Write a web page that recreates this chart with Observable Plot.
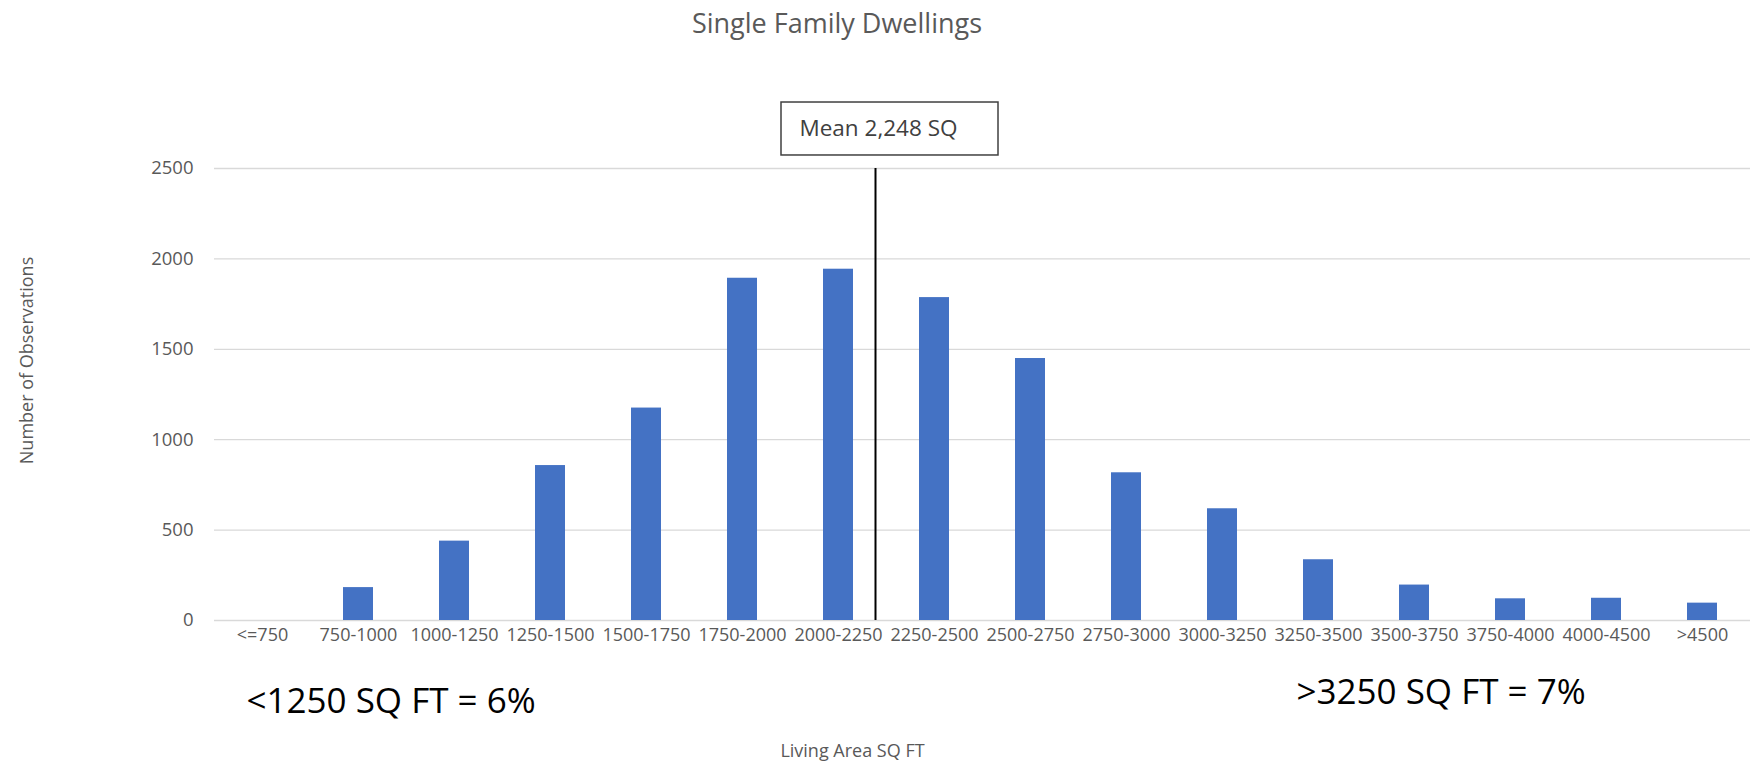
<!DOCTYPE html>
<html><head><meta charset="utf-8">
<script src="https://cdn.jsdelivr.net/npm/d3@7"></script>
<script src="https://cdn.jsdelivr.net/npm/@observablehq/plot@0.6"></script>
<style>
html,body{margin:0;padding:0;background:#fff;overflow:hidden;}
#title{position:relative;height:50px;font-family:"Open Sans";}
#title span{position:absolute;left:837px;top:9px;transform:translateX(-50%);font-size:27px;color:#595959;white-space:nowrap;line-height:27px;}
</style></head><body>
<div id="title"><span>Single Family Dwellings</span></div>
<div id="chart"></div>
<script>
const categories = ["<=750","750-1000","1000-1250","1250-1500","1500-1750","1750-2000","2000-2250","2250-2500","2500-2750","2750-3000","3000-3250","3250-3500","3500-3750","3750-4000","4000-4500",">4500"];
const counts = [0,182,439,857,1175,1893,1943,1786,1449,817,618,336,196,120,123,96];
const yTicks = [0,500,1000,1500,2000,2500];
const meanValue = 2248;
const meanLabel = "Mean 2,248 SQ";
const meanCategory = "2000-2250";
const annotationLeft = "<1250 SQ FT = 6%";
const annotationLeftCategory = "<=750";
const annotationRight = ">3250 SQ FT = 7%";
const annotationRightCategory = "3250-3500";
const xLabel = "Living Area SQ FT";
const yLabel = "Number of Observations";

const data = categories.map((c, i) => ({category: c, count: counts[i]}));

const plot = Plot.plot({
  width: 1759, height: 712,
  marginLeft: 214, marginRight: 9, marginTop: 118, marginBottom: 142,
  style: {fontFamily: "Open Sans", fontSize: "18px", color: "#595959", background: "white"},
  x: {domain: categories, paddingInner: 0.6875, paddingOuter: 0.34375, label: null},
  y: {domain: [0, 2500], label: null},
  marks: [
    Plot.ruleY(yTicks, {stroke: "#d9d9d9", strokeWidth: 1.3}),
    Plot.barY(data, {x: "category", y: "count", fill: "#4472C4"}),
    Plot.axisX({tickSize: 0, tickPadding: 8, fontSize: 18, label: null}),
    Plot.axisY({ticks: yTicks, tickFormat: d => String(d), tickSize: 0, tickPadding: 21, fontSize: 18.5, label: null}),
    Plot.ruleX([meanValue], {x: () => meanCategory, dx: 37, y1: 0, y2: 2500, stroke: "black", strokeWidth: 2}),
    Plot.barY([meanLabel], {x: () => meanCategory, y1: 2572, y2: 2865, insetLeft: -42, insetRight: -145, fill: "white", stroke: "#404040", strokeWidth: 1.5}),
    Plot.text([meanLabel], {x: () => meanCategory, y: 2718, text: d => d, textAnchor: "start", dx: -39, fontSize: 22.5, fill: "#404040"}),
    Plot.text([annotationLeft], {x: () => annotationLeftCategory, frameAnchor: "bottom", text: d => d, textAnchor: "start", lineAnchor: "bottom", dx: -16, dy: 92, fontSize: 35, fill: "black"}),
    Plot.text([annotationRight], {x: () => annotationRightCategory, frameAnchor: "bottom", text: d => d, textAnchor: "start", lineAnchor: "bottom", dx: -22, dy: 83, fontSize: 35, fill: "black"}),
    Plot.text([xLabel], {frameAnchor: "bottom", text: d => d, textAnchor: "middle", lineAnchor: "bottom", dx: -130, dy: 136, fontSize: 18}),
    Plot.text([yLabel], {frameAnchor: "left", text: d => d, rotate: -90, textAnchor: "middle", lineAnchor: "middle", dx: -187, dy: -34, fontSize: 18})
  ]
});
document.getElementById("chart").appendChild(plot);
</script>
</body></html>
